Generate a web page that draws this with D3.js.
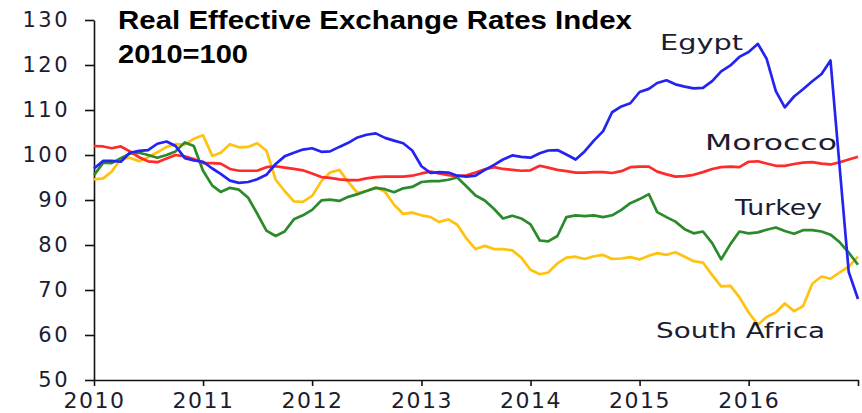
<!DOCTYPE html>
<html>
<head>
<meta charset="utf-8">
<script src="https://cdn.jsdelivr.net/npm/d3@7"></script>
<style>
  html, body { margin: 0; padding: 0; background: #fff; }
  svg { display: block; }
  .axis text { font-family: "DejaVu Sans", sans-serif; fill: #1c1c30; }
</style>
</head>
<body>
<svg id="chart"></svg>
<script>
(function() {
    const width = 862;
    const height = 413;
    const margin = { top: 20, right: 4, bottom: 33, left: 94 };

    // monthly, Jan 2010 .. Jan 2017
    const startMonth = new Date(2010, 0, 1);

    const egypt = [
        97.0, 98.7, 98.7, 98.5, 100.5, 100.9, 101.1, 102.5, 103.0, 102.0, 99.3, 98.8,
        98.5, 97.0, 95.8, 94.3, 93.8, 94.0, 94.6, 95.6, 98.0, 99.7, 100.5, 101.2,
        101.5, 100.7, 100.8, 101.8, 102.7, 103.9, 104.5, 104.8, 103.8, 103.2, 102.6, 101.0,
        97.5, 96.0, 96.2, 96.1, 95.4, 95.2, 95.4, 96.7, 97.8, 99.0, 99.9, 99.6,
        99.4, 100.4, 101.0, 101.1, 100.1, 99.0, 100.8, 103.2, 105.3, 109.5, 110.8, 111.5,
        114.0, 114.7, 116.0, 116.6, 115.7, 115.2, 114.8, 114.9, 116.4, 118.6, 119.9, 121.8,
        122.9, 124.7, 121.4, 114.2, 110.6, 113.0, 114.6, 116.4, 118.0, 121.0, 97.0, 74.0,
        68.0
    ];

    const morocco = [
        102.0, 101.9, 101.5, 101.9, 100.8, 99.5, 98.6, 98.4, 99.2, 100.0, 99.7, 99.1,
        98.2, 98.2, 98.1, 96.9, 96.5, 96.5, 96.5, 97.3, 97.5, 97.2, 96.9, 96.6,
        95.9, 95.1, 94.9, 94.6, 94.4, 94.4, 94.8, 95.1, 95.2, 95.2, 95.2, 95.4,
        95.9, 96.3, 95.9, 95.5, 95.3, 95.5, 96.1, 96.8, 97.3, 96.9, 96.7, 96.5,
        96.6, 97.6, 97.2, 96.7, 96.4, 96.1, 96.1, 96.2, 96.2, 96.0, 96.4, 97.3,
        97.4, 97.4, 96.3, 95.7, 95.2, 95.3, 95.6, 96.2, 96.9, 97.3, 97.4, 97.3,
        98.5, 98.6, 98.1, 97.6, 97.6, 98.0, 98.3, 98.4, 98.1, 97.9, 98.4, 99.0,
        99.6
    ];

    const turkey = [
        95.5, 98.3, 98.2, 99.3, 100.3, 100.5, 100.0, 99.4, 100.0, 100.8, 102.8, 102.0,
        96.5, 93.2, 91.8, 92.7, 92.3, 90.5, 87.0, 83.2, 82.0, 83.0, 85.7, 86.6,
        87.8, 89.9, 90.1, 89.8, 90.7, 91.3, 92.0, 92.7, 92.4, 91.7, 92.6, 92.9,
        94.0, 94.2, 94.2, 94.5, 95.0, 93.0, 91.0, 89.9, 88.0, 85.9, 86.5, 85.9,
        84.6, 81.0, 80.8, 82.0, 86.2, 86.6, 86.4, 86.6, 86.2, 86.6, 87.8, 89.3,
        90.2, 91.3, 87.3, 86.2, 85.2, 83.5, 82.6, 83.0, 80.4, 76.8, 80.2, 83.0,
        82.6, 82.8, 83.4, 83.9, 83.1, 82.5, 83.3, 83.3, 83.0, 82.3, 80.6, 78.3,
        75.6
    ];

    const southAfrica = [
        94.6, 94.8, 96.3, 99.1, 99.4, 98.6, 99.5, 100.6, 101.8, 102.4, 102.3, 103.6,
        104.4, 99.8, 100.5, 102.4, 101.7, 101.8, 102.6, 101.0, 94.5, 92.0, 89.7, 89.6,
        90.9, 94.2, 96.1, 96.7, 94.0, 91.6, 92.0, 92.8, 91.8, 89.0, 86.9, 87.2,
        86.6, 86.2, 85.1, 85.7, 84.5, 81.4, 79.1, 79.8, 79.1, 79.1, 78.8, 77.2,
        74.5, 73.5, 73.9, 75.9, 77.2, 77.4, 76.9, 77.5, 77.8, 76.9, 77.0, 77.3,
        76.8, 77.6, 78.2, 77.8, 78.4, 77.4, 76.4, 76.1, 73.3, 70.8, 70.9, 68.4,
        65.0, 62.3, 64.0, 65.0, 67.0, 65.3, 66.4, 71.4, 73.0, 72.5, 73.9, 75.2,
        77.4
    ];

    const seriesNames = ["South Africa", "Turkey", "Morocco", "Egypt"];
    const seriesValues = [southAfrica, turkey, morocco, egypt];
    const seriesColors = ["#ffc20e", "#2b8a2b", "#ff2a2a", "#2424f2"];

    const yTicks = [50, 60, 70, 80, 90, 100, 110, 120, 130];
    const xTickYears = [2010, 2011, 2012, 2013, 2014, 2015, 2016, 2017];

    const months = egypt.map((_, i) => d3.timeMonth.offset(startMonth, i));

    const svg = d3.select("#chart")
        .attr("width", width)
        .attr("height", height);

    const x = d3.scaleTime()
        .domain([new Date(2010, 0, 1), new Date(2017, 0, 1)])
        .range([margin.left, width - margin.right]);

    const y = d3.scaleLinear()
        .domain([50, 130])
        .range([height - margin.bottom, margin.top]);

    // --- AXES ---
    const xAxis = svg.append("g")
        .attr("class", "axis")
        .attr("transform", `translate(0,${height - margin.bottom})`)
        .call(d3.axisBottom(x)
            .tickValues(xTickYears.map(yr => new Date(yr, 0, 1)))
            .tickFormat(d => d.getFullYear() === 2017 ? "" : d.getFullYear())
            .tickSize(6)
            .tickSizeOuter(0)
            .tickPadding(6));
    xAxis.selectAll("text").attr("font-size", "22px").attr("letter-spacing", "1.5px");

    const yAxis = svg.append("g")
        .attr("class", "axis")
        .attr("transform", `translate(${margin.left},0)`)
        .call(d3.axisLeft(y)
            .tickValues(yTicks)
            .tickSize(9)
            .tickSizeOuter(0)
            .tickPadding(15));
    yAxis.selectAll("text").attr("font-size", "21px").attr("letter-spacing", "2.5px");

    svg.selectAll(".axis path, .axis line")
        .attr("stroke", "#111")
        .attr("stroke-width", 1.6);

    // --- LINES ---
    const line = d3.line()
        .x((d, i) => x(months[i]))
        .y(d => y(d));

    svg.append("g")
        .selectAll("path")
        .data(seriesValues)
        .join("path")
        .attr("d", line)
        .attr("fill", "none")
        .attr("stroke", (d, i) => seriesColors[i])
        .attr("stroke-width", 2.7)
        .attr("stroke-linejoin", "round");

    // --- TITLE ---
    const titleLines = [
        { text: "Real Effective Exchange Rates Index", y: 29, len: 514 },
        { text: "2010=100", y: 63, len: 130 }
    ];
    svg.append("g")
        .selectAll("text")
        .data(titleLines)
        .join("text")
        .attr("x", 118)
        .attr("y", d => d.y)
        .attr("font-family", "Liberation Sans, Arial, sans-serif")
        .attr("font-weight", "bold")
        .attr("font-size", "25px")
        .attr("textLength", d => d.len)
        .attr("lengthAdjust", "spacingAndGlyphs")
        .attr("fill", "#000")
        .text(d => d.text);

    // --- SERIES LABELS ---
    const labels = [
        { name: "Egypt", x: 660, y: 50, len: 83 },
        { name: "Morocco", x: 705, y: 150, len: 132 },
        { name: "Turkey", x: 735, y: 215, len: 87 },
        { name: "South Africa", x: 656, y: 338, len: 169 }
    ];
    svg.append("g")
        .selectAll("text")
        .data(labels)
        .join("text")
        .attr("x", d => d.x)
        .attr("y", d => d.y)
        .attr("font-family", "DejaVu Sans, sans-serif")
        .attr("font-size", "22px")
        .attr("textLength", d => d.len)
        .attr("lengthAdjust", "spacingAndGlyphs")
        .attr("fill", "#1c1c30")
        .text(d => d.name);
})();
</script>
</body>
</html>
